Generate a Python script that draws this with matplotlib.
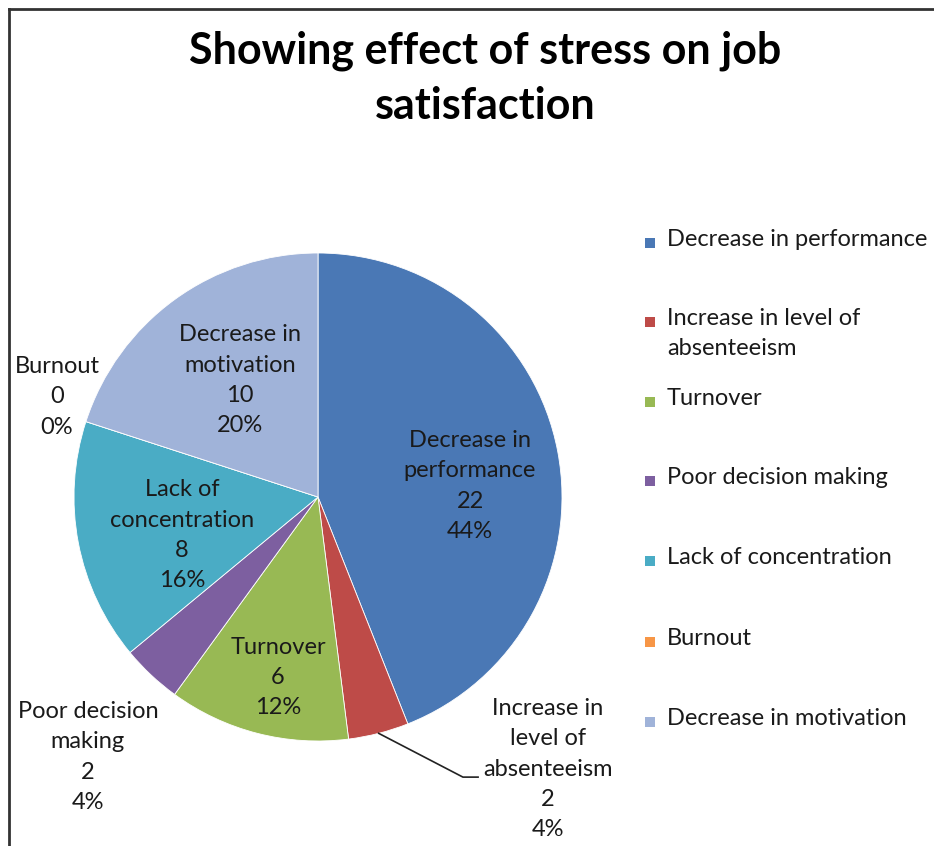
import numpy as np
import matplotlib
matplotlib.use("Agg")
import matplotlib.pyplot as plt
from matplotlib.lines import Line2D
from matplotlib.patches import Rectangle

plt.rcParams['font.family'] = ['Lato', 'DejaVu Sans']

# data
categories = ["Decrease in performance", "Increase in level of absenteeism", "Turnover",
              "Poor decision making", "Lack of concentration", "Burnout",
              "Decrease in motivation"]
label_text = ["Decrease in\nperformance", "Increase in\nlevel of\nabsenteeism", "Turnover",
              "Poor decision\nmaking", "Lack of\nconcentration", "Burnout",
              "Decrease in\nmotivation"]
legend_text = ["Decrease in performance", "Increase in level of\nabsenteeism", "Turnover",
               "Poor decision making", "Lack of concentration", "Burnout",
               "Decrease in motivation"]
counts = [22, 2, 6, 2, 8, 0, 10]
colors = ["#4A78B5", "#BE4B48", "#98B954", "#7D5FA0", "#4AACC5", "#F79646", "#A0B3D9"]

# label centres (axes data units, pie radius = 1)
label_pos = [(0.623, 0.045), (0.943, -1.115), (-0.164, -0.740), (-0.943, -1.066),
             (-0.557, -0.157), (-1.070, 0.410), (-0.320, 0.478)]

W, H = 934, 846
fig = plt.figure(figsize=(W / 100, H / 100), dpi=100)
fig.patch.set_facecolor("white")

# pie centre and radius in pixels
cx, cy, R = 318, 497, 244
ax = fig.add_axes([(cx - R) / W, (H - cy - R) / H, 2 * R / W, 2 * R / H])
wedges, _ = ax.pie(counts, colors=colors, startangle=90, counterclock=False, radius=1,
                   wedgeprops=dict(edgecolor="white", linewidth=0.6))
ax.set_xlim(-1, 1)
ax.set_ylim(-1, 1)
ax.set_aspect("auto")
ax.axis("off")

total = sum(counts)
fs = 17
ls = 1.55
for i, (txt, n) in enumerate(zip(label_text, counts)):
    x, y = label_pos[i]
    pct = round(100 * n / total)
    ax.text(x, y, f"{txt}\n{n}\n{pct}%", ha="center", va="center", fontsize=fs,
            linespacing=ls, color="#1a1a1a", clip_on=False)

# leader line for the absenteeism slice
w = wedges[1]
mid = np.deg2rad((w.theta1 + w.theta2) / 2)
ax.add_line(Line2D([np.cos(mid), 0.594, 0.656], [np.sin(mid), -1.148, -1.148],
                   color="#222222", lw=1.2, clip_on=False))

# title
fig.text(485 / W, 1 - 51 / H, "Showing effect of stress on job", ha="center", va="center",
         fontsize=31, fontweight="bold", color="black")
fig.text(485 / W, 1 - 106 / H, "satisfaction", ha="center", va="center",
         fontsize=31, fontweight="bold", color="black")

# legend (drawn by hand so the spacing matches the original)
leg_y = [243, 322, 402, 481, 561, 642, 722]
for txt, c, yy in zip(legend_text, colors, leg_y):
    fig.patches.append(Rectangle((645 / W, 1 - (yy + 5) / H), 10 / W, 10 / H,
                                 transform=fig.transFigure, facecolor=c, edgecolor="none"))
    fig.text(667 / W, 1 - (yy - 14) / H, txt, ha="left", va="top", fontsize=fs,
             linespacing=ls, color="#1a1a1a")

# chart frame (left and top edges visible)
fig.add_artist(Line2D([9 / W, 9 / W], [0, 1 - 9 / H], color="#333333", lw=2,
                      transform=fig.transFigure))
fig.add_artist(Line2D([9 / W, 1], [1 - 9 / H, 1 - 9 / H], color="#333333", lw=2,
                      transform=fig.transFigure))

fig.savefig("out.png", dpi=100)
